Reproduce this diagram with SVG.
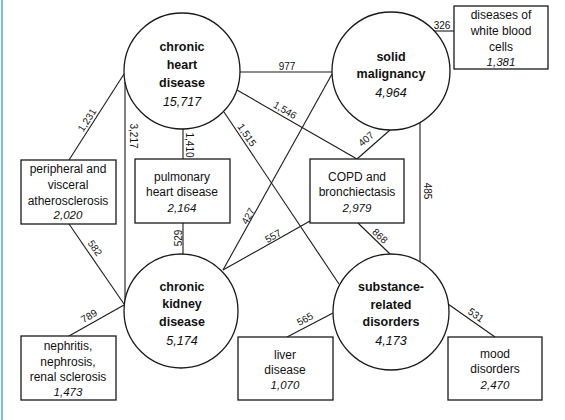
<svg xmlns="http://www.w3.org/2000/svg" width="565" height="420" viewBox="0 0 565 420">
<style>
.c{fill:#fff;stroke:#1a1a1a;stroke-width:1.3}
.b{fill:#fff;stroke:#1a1a1a;stroke-width:1.3}
.e{stroke:#1a1a1a;stroke-width:1.1;fill:none}
text{font-family:"Liberation Sans",Arial,sans-serif;fill:#111;text-anchor:middle}
.cb{font-size:12.5px;font-weight:bold}
.cn{font-size:12.5px;font-style:italic}
.bt{font-size:12px}
.bn{font-size:11.5px;font-style:italic}
.l{font-size:10px}
</style>
<rect width="565" height="420" fill="#fff"/>
<line x1="2" y1="0" x2="2" y2="420" stroke="#4bacc6" stroke-width="1.5"/>
<g id="connectors">
<line class="e" x1="124" y1="74" x2="69" y2="160"/>
<line class="e" x1="125" y1="82" x2="125" y2="304"/>
<line class="e" x1="183" y1="129" x2="183" y2="159"/>
<line class="e" x1="240" y1="72" x2="332" y2="72"/>
<line class="e" x1="237" y1="90" x2="357" y2="159"/>
<line class="e" x1="224" y1="112" x2="339" y2="284"/>
<line class="e" x1="332" y1="74" x2="223" y2="270"/>
<line class="e" x1="390" y1="130" x2="357" y2="159"/>
<line class="e" x1="433" y1="31" x2="454" y2="31"/>
<line class="e" x1="420" y1="122" x2="420" y2="262"/>
<line class="e" x1="310" y1="221" x2="223" y2="270"/>
<line class="e" x1="358" y1="223" x2="390" y2="254"/>
<line class="e" x1="69" y1="224" x2="124" y2="304"/>
<line class="e" x1="69" y1="336" x2="124" y2="305"/>
<line class="e" x1="183" y1="223" x2="183" y2="254"/>
<line class="e" x1="333" y1="313" x2="287" y2="337"/>
<line class="e" x1="448" y1="304" x2="495" y2="337"/>
<text class="l" transform="translate(87,120) rotate(-57)" y="3.5">1,231</text>
<text class="l" transform="translate(133,136) rotate(90)" y="3.5">3,217</text>
<text class="l" transform="translate(189,145) rotate(90)" y="3.5">1,410</text>
<text class="l" x="287" y="69.5">977</text>
<text class="l" transform="translate(285,110) rotate(30.5)" y="3.5">1,546</text>
<text class="l" transform="translate(247,135) rotate(56)" y="3.5">1,515</text>
<text class="l" transform="translate(248,216) rotate(-61)" y="3.5">427</text>
<text class="l" transform="translate(273,236) rotate(-29.4)" y="3.5">557</text>
<text class="l" transform="translate(366,139) rotate(-41)" y="3.5">407</text>
<text class="l" x="442" y="28.5">326</text>
<text class="l" transform="translate(427,191) rotate(90)" y="3.5">485</text>
<text class="l" transform="translate(380,236) rotate(43)" y="3.5">868</text>
<text class="l" transform="translate(95,248) rotate(54.7)" y="3.5">582</text>
<text class="l" transform="translate(89,316) rotate(-30.5)" y="3.5">789</text>
<text class="l" transform="translate(178,238) rotate(-90)" y="3.5">529</text>
<text class="l" transform="translate(305,319) rotate(-28)" y="3.5">565</text>
<text class="l" transform="translate(476,315) rotate(35)" y="3.5">531</text>
</g>
<g id="chronic-heart-disease">
<circle class="c" cx="182" cy="71" r="58"/>
<text class="cb" x="182" y="51">chronic</text>
<text class="cb" x="182" y="69">heart</text>
<text class="cb" x="182" y="87">disease</text>
<text class="cn" x="182" y="106">15,717</text>
</g>
<g id="solid-malignancy">
<circle class="c" cx="391" cy="71" r="59"/>
<text class="cb" x="391" y="61">solid</text>
<text class="cb" x="391" y="78">malignancy</text>
<text class="cn" x="391" y="97">4,964</text>
</g>
<g id="chronic-kidney-disease">
<circle class="c" cx="181" cy="311" r="57"/>
<text class="cb" x="182" y="291">chronic</text>
<text class="cb" x="182" y="308">kidney</text>
<text class="cb" x="182" y="326">disease</text>
<text class="cn" x="182" y="345">5,174</text>
</g>
<g id="substance-related-disorders">
<circle class="c" cx="391" cy="312" r="58"/>
<text class="cb" x="391" y="291">substance-</text>
<text class="cb" x="391" y="309">related</text>
<text class="cb" x="391" y="326">disorders</text>
<text class="cn" x="391" y="345">4,173</text>
</g>
<g id="peripheral">
<rect class="b" x="21" y="160" width="95" height="64"/>
<text class="bt" x="68" y="173">peripheral and</text>
<text class="bt" x="68" y="189">visceral</text>
<text class="bt" x="68" y="205">atherosclerosis</text>
<text class="bn" x="68" y="219">2,020</text>
</g>
<g id="pulmonary">
<rect class="b" x="135" y="159" width="95" height="64"/>
<text class="bt" x="182" y="181">pulmonary</text>
<text class="bt" x="182" y="196">heart disease</text>
<text class="bn" x="182" y="212">2,164</text>
</g>
<g id="copd">
<rect class="b" x="310" y="159" width="94" height="64"/>
<text class="bt" x="357" y="181">COPD and</text>
<text class="bt" x="357" y="196">bronchiectasis</text>
<text class="bn" x="357" y="212">2,979</text>
</g>
<g id="white-blood-cells">
<rect class="b" x="454" y="6" width="94" height="63"/>
<text class="bt" x="501" y="19">diseases of</text>
<text class="bt" x="501" y="35">white blood</text>
<text class="bt" x="501" y="51">cells</text>
<text class="bn" x="501" y="66">1,381</text>
</g>
<g id="nephritis">
<rect class="b" x="21" y="336" width="95" height="64"/>
<text class="bt" x="68" y="350">nephritis,</text>
<text class="bt" x="68" y="366">nephrosis,</text>
<text class="bt" x="68" y="381">renal sclerosis</text>
<text class="bn" x="68" y="396">1,473</text>
</g>
<g id="liver">
<rect class="b" x="238" y="337" width="95" height="63"/>
<text class="bt" x="285" y="359">liver</text>
<text class="bt" x="285" y="374">disease</text>
<text class="bn" x="285" y="389">1,070</text>
</g>
<g id="mood">
<rect class="b" x="448" y="337" width="94" height="63"/>
<text class="bt" x="495" y="358">mood</text>
<text class="bt" x="495" y="373">disorders</text>
<text class="bn" x="495" y="389">2,470</text>
</g>
</svg>
